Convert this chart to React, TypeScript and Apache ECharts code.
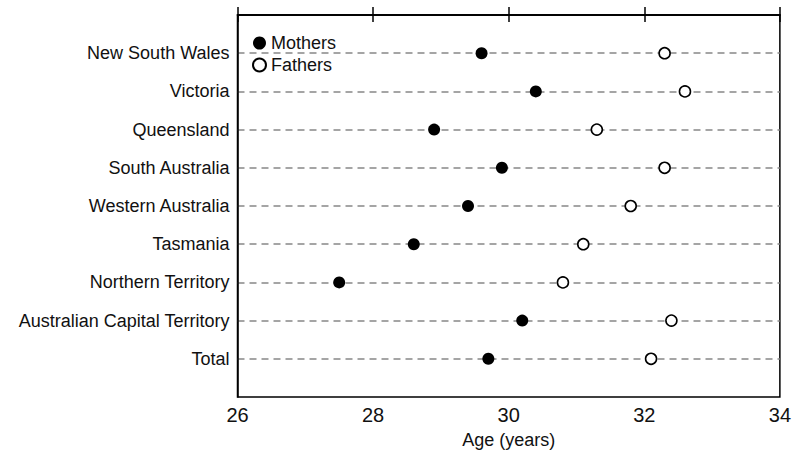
import React, { useEffect, useRef } from "react";
import * as echarts from "echarts";

// Median age of parents by state / territory
const categories = [
  "New South Wales",
  "Victoria",
  "Queensland",
  "South Australia",
  "Western Australia",
  "Tasmania",
  "Northern Territory",
  "Australian Capital Territory",
  "Total",
];
const mothers = [29.6, 30.4, 28.9, 29.9, 29.4, 28.6, 27.5, 30.2, 29.7];
const fathers = [32.3, 32.6, 31.3, 32.3, 31.8, 31.1, 30.8, 32.4, 32.1];
const xTicks = { min: 26, max: 34, interval: 2 };

const FONT = "'Liberation Sans', Arial, sans-serif";

export default function App() {
  const ref = useRef<HTMLDivElement>(null);

  useEffect(() => {
    if (!ref.current) return;
    const chart = echarts.init(ref.current, undefined, { renderer: "svg" });

    const toPoints = (vals: number[]) => vals.map((v, i) => [v, i + 1]);

    chart.setOption({
      animation: false,
      backgroundColor: "#fff",
      textStyle: { fontFamily: FONT },
      grid: {
        left: 237.5,
        right: 14,
        top: 15,
        bottom: 59,
        show: true,
        borderColor: "#000",
        borderWidth: 1.5,
        backgroundColor: "transparent",
      },
      legend: {
        orient: "vertical",
        left: 252,
        top: 34,
        padding: 0,
        itemWidth: 13,
        itemHeight: 13,
        itemGap: 4,
        textStyle: { fontSize: 18, lineHeight: 18, color: "#111", fontFamily: FONT },
        data: [
          { name: "Mothers", icon: "circle" },
          { name: "Fathers", icon: "circle" },
        ],
      },
      xAxis: [
        {
          type: "value",
          position: "bottom",
          min: xTicks.min,
          max: xTicks.max,
          interval: xTicks.interval,
          name: "Age (years)",
          nameLocation: "middle",
          nameGap: 34,
          nameTextStyle: { fontSize: 18, color: "#111", fontFamily: FONT },
          axisLine: { show: true, lineStyle: { color: "#000", width: 1.5 } },
          axisTick: { show: true, length: 7, lineStyle: { color: "#000", width: 1.5 } },
          axisLabel: { fontSize: 20, color: "#111", margin: 8, fontFamily: FONT },
          splitLine: { show: false },
        },
        {
          type: "value",
          position: "top",
          min: xTicks.min,
          max: xTicks.max,
          interval: xTicks.interval,
          axisLine: { show: true, lineStyle: { color: "#000", width: 1.5 } },
          axisTick: { show: true, length: 8, lineStyle: { color: "#000", width: 1.5 } },
          axisLabel: { show: false },
          splitLine: { show: false },
        },
      ],
      yAxis: {
        type: "value",
        inverse: true,
        min: 0,
        max: categories.length + 1,
        interval: 1,
        axisLine: { show: true, lineStyle: { color: "#000", width: 1.5 } },
        axisTick: { show: false },
        axisLabel: {
          fontSize: 18,
          color: "#111",
          margin: 8,
          fontFamily: FONT,
          formatter: (v: number) => categories[v - 1] ?? "",
        },
        splitLine: {
          show: true,
          showMinLine: false,
          showMaxLine: false,
          lineStyle: { color: "#888", width: 1.5, type: [7, 5] },
        },
      },
      series: [
        {
          name: "Mothers",
          type: "scatter",
          symbol: "circle",
          symbolSize: 12,
          itemStyle: { color: "#000", opacity: 1 },
          data: toPoints(mothers),
          z: 3,
        },
        {
          name: "Fathers",
          type: "scatter",
          symbol: "circle",
          symbolSize: 11,
          itemStyle: { color: "#fff", borderColor: "#000", borderWidth: 1.6, opacity: 1 },
          data: toPoints(fathers),
          z: 3,
        },
      ],
    });

    return () => chart.dispose();
  }, []);

  return (
    <div
      ref={ref}
      style={{ position: "fixed", left: 0, top: 0, width: 794, height: 456 }}
    />
  );
}
